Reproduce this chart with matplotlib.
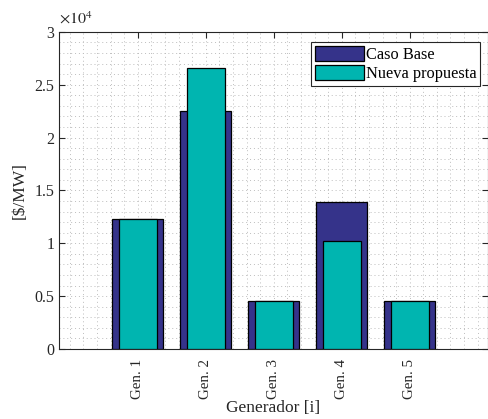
import numpy as np
import matplotlib
matplotlib.use('Agg')
import matplotlib.pyplot as plt
from matplotlib.ticker import FuncFormatter, MultipleLocator

plt.rcParams['font.family'] = ['Liberation Serif', 'DejaVu Serif']
plt.rcParams['mathtext.fontset'] = 'stix'

# Costos por generador
generadores = ['Gen. 1', 'Gen. 2', 'Gen. 3', 'Gen. 4', 'Gen. 5']
caso_base = [12330, 22520, 4570, 13910, 4570]
nueva_propuesta = [12330, 26560, 4570, 10220, 4570]

x = np.arange(1, len(generadores) + 1)

fig = plt.figure(figsize=(4.89, 4.19), dpi=100)
ax = fig.add_axes([0.1207, 0.167, 0.877, 0.757])

ax.bar(x, caso_base, width=0.75, color='#35338A', edgecolor='black',
       linewidth=0.9, label='Caso Base', zorder=3)
ax.bar(x, nueva_propuesta, width=0.56, color='#00B5B0', edgecolor='black',
       linewidth=0.9, label='Nueva propuesta', zorder=4)

ax.set_xlim(-0.16, 6.15)
ax.set_ylim(0, 30000)
ax.set_xticks(x)
ax.set_xticklabels(generadores, rotation=90)
ax.xaxis.set_minor_locator(MultipleLocator(0.2))
ax.yaxis.set_major_locator(MultipleLocator(5000))
ax.yaxis.set_minor_locator(MultipleLocator(1000))
ax.yaxis.set_major_formatter(FuncFormatter(lambda v, p: '%g' % (v / 1e4)))

ax.tick_params(which='both', direction='in', top=True, right=True,
               labelsize=11.5, colors='#262626', width=0.8)
ax.tick_params(which='major', length=4.5)
ax.tick_params(axis='x', pad=7, labelsize=10.8)
ax.tick_params(which='minor', length=0)
ax.grid(which='both', linestyle=(0, (1, 3)), color='#bdbdbd', linewidth=0.7, zorder=0)

for s in ax.spines.values():
    s.set_color('#262626')
    s.set_linewidth(0.8)

ax.text(0.0, 1.012, r'$\times10^4$', transform=ax.transAxes, fontsize=11.5,
        color='#262626', va='bottom', ha='left')

ax.set_xlabel('Generador [i]', fontsize=12.5, color='#262626', labelpad=1)
ax.set_ylabel('[$/MW]', fontsize=12.5, color='#262626', labelpad=5)

leg = ax.legend(loc='upper right', bbox_to_anchor=(0.982, 0.967), fontsize=11.8,
                fancybox=False, framealpha=1, edgecolor='#262626',
                handlelength=3.0, handleheight=1.05, handletextpad=0.15,
                borderpad=0.2, labelspacing=0.15, borderaxespad=0)
leg.get_frame().set_linewidth(0.8)

fig.savefig('out.png', dpi=100)
